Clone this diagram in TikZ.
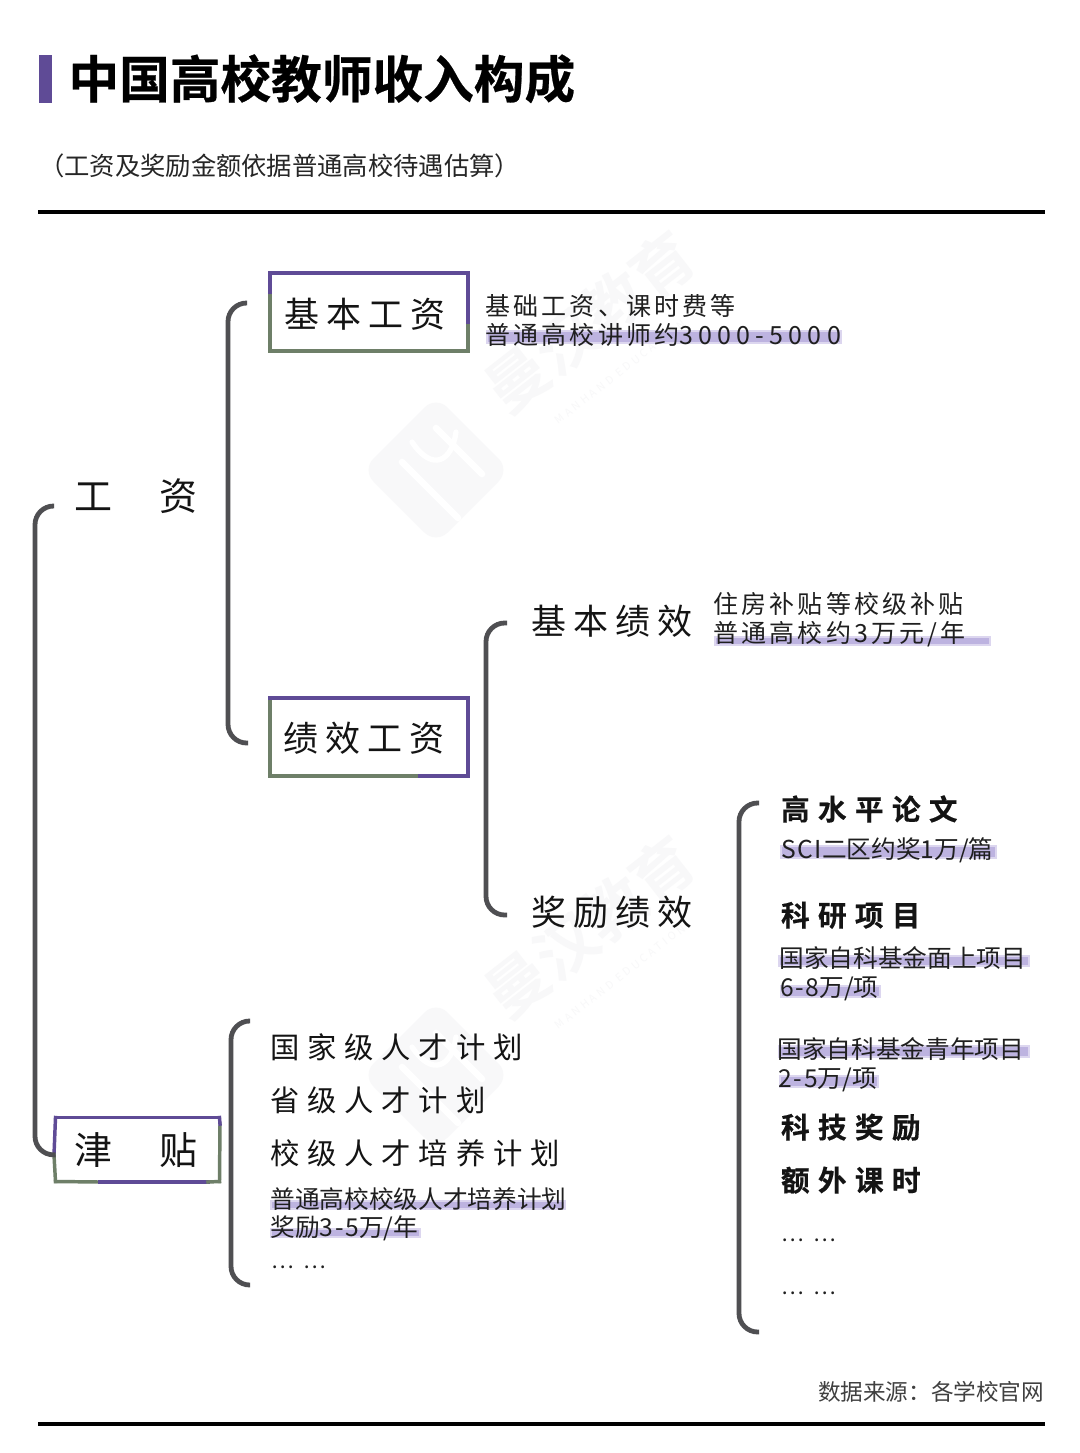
\documentclass[tikz,border=0pt]{standalone}
\usepackage{fontspec}
\setmainfont{Noto Sans CJK SC}[BoldFont={Noto Sans CJK SC Bold}]
\definecolor{pur}{HTML}{5F4B96}
\definecolor{grn}{HTML}{6E7F68}
\definecolor{brk}{HTML}{4F4F52}
\definecolor{hl}{HTML}{BDB3E0}
\definecolor{hlsoft}{HTML}{DCD6EF}
\definecolor{wm}{HTML}{F8F8F9}
\newcommand{\latinwide}[1]{{\addfontfeature{LetterSpace=21}#1}}
\newcommand{\latinsoft}[1]{{\addfontfeature{LetterSpace=7}#1}}
\newcommand{\dotsgap}{…\hspace{0.45em}…}
\tikzset{
  x=0.75pt,y=-0.75pt,
  lbl/.style 2 args={anchor=base west,inner sep=0pt,outer sep=0pt,text=#2,font=#1},
  body/.style={lbl={\fontsize{18.75}{18.75}\selectfont\addfontfeature{LetterSpace=12.5}}{black!88}},
  plain/.style={lbl={\fontsize{18.5}{18.5}\selectfont}{black!88}},
  dotted text/.style={lbl={\fontsize{16}{16}\selectfont}{black!88}},
  head/.style={lbl={\fontsize{26.25}{26.25}\selectfont\addfontfeature{LetterSpace=20.5}}{black!92}},
  item/.style={lbl={\fontsize{22}{22}\selectfont\addfontfeature{LetterSpace=26.5}}{black!92}},
  strong/.style={lbl={\bfseries\fontsize{21.5}{21.5}\selectfont\addfontfeature{LetterSpace=29,FakeBold=0.4}}{black!92}},
  wide/.style={lbl={\fontsize{28.5}{28.5}\selectfont}{black!92}},
  bracket/.style={draw=brk,line width=3.6pt,rounded corners=14pt,line cap=butt},
  edgeP/.style={draw=pur,line width=2.6pt,line cap=rect},
  edgeG/.style={draw=grn,line width=2.6pt,line cap=rect},
  mark bar/.style={fill=hl,draw=hlsoft,line width=1.2pt},
  rule/.style={draw=black,line width=3pt},
  boxnode/.style={inner sep=0pt,outer sep=0pt,minimum width=148.5pt,minimum height=58.5pt},
  wmtext/.style={inner sep=0pt,text=wm,rotate=38,font=\bfseries\fontsize{46}{46}\selectfont},
  wmsmall/.style={inner sep=0pt,text=wm,rotate=38,font=\fontsize{8}{8}\selectfont\addfontfeature{LetterSpace=30}},
}
\begin{document}
\begin{tikzpicture}
\useasboundingbox (0,0) rectangle (1080,1453);
\fill[white] (0,0) rectangle (1080,1453);

% watermark
\foreach \yy in {0,605}{
  \begin{scope}[yshift=-\yy*0.75pt]
    \fill[wm,rounded corners=12pt] (436,396) -- (510,470) -- (436,544) -- (362,470) -- cycle;
    \draw[white,line width=5pt,line cap=round] (402,462) -- (458,518);
    \draw[white,line width=5pt,line cap=round] (436,428) -- (482,474);
    \draw[white,line width=4pt,line cap=round] (412,442) .. controls (432,472) and (452,462) .. (456,432);
    \node[wmtext] (wm\yy) at (590,322) {曼汉教育};
    \node[wmsmall] (wms\yy) at (620,372) {MANHAND EDUCATION};
  \end{scope}
}

% title
\fill[pur] (39,55) rectangle (52,103);
\node[lbl={\bfseries\fontsize{38}{38}\selectfont\addfontfeature{FakeBold=0.5}}{black}] (title) at (68.5,98) {中国高校教师收入构成};
\node[lbl={\fontsize{19}{19}\selectfont}{black!85}] (sub) at (39,175) {（工资及奖励金额依据普通高校待遇估算）};
\coordinate (r1a) at (38,212); \coordinate (r1b) at (1045,212);
\coordinate (r2a) at (38,1424); \coordinate (r2b) at (1045,1424);
\draw[rule] (r1a) -- (r1b);
\draw[rule] (r2a) -- (r2b);

% highlight bars
\filldraw[mark bar] (487,331) rectangle (841,343);
\filldraw[mark bar] (715,637) rectangle (990,645);
\filldraw[mark bar] (781,846) rectangle (996,858);
\filldraw[mark bar] (779,956) rectangle (1029,966);
\filldraw[mark bar] (781,986) rectangle (880,997);
\filldraw[mark bar] (779,1046) rectangle (1029,1057);
\filldraw[mark bar] (780,1076) rectangle (878,1087);
\filldraw[mark bar] (271,1201) rectangle (565,1209);
\filldraw[mark bar] (271,1229) rectangle (420,1237);

% boxes
\node[boxnode] (jb) at (369,312) {};
\node[boxnode] (jx) at (369,737) {};
\node[inner sep=0pt,outer sep=0pt,minimum width=123pt,minimum height=48pt] (jt) at (137.5,1149.5) {};

\draw[edgeG] (jb.south west) -- (jb.south east);
\draw[edgeG] (270,292) -- (jb.south west);
\draw[edgeG] (468,322) -- (jb.south east);
\draw[edgeP] (jb.north west) -- (jb.north east);
\draw[edgeP] (jb.north west) -- (270,292);
\draw[edgeP] (jb.north east) -- (468,322);

\draw[edgeG] (jx.north west) -- (jx.south west);
\draw[edgeG] (jx.south west) -- (420,776);
\draw[edgeP] (420,776) -- (jx.south east);
\draw[edgeP] (jx.north west) -- (jx.north east);
\draw[edgeP] (jx.north east) -- (jx.south east);

\draw[edgeP] (jt.north west) -- (jt.north east);
\draw[edgeP] (jt.north west) -- (54,1155);
\draw[edgeG] (54,1155) -- (jt.south west);
\draw[edgeG] (jt.south west) -- (100,1182);
\draw[edgeP] (100,1182) -- (208,1182);
\draw[edgeG] (208,1182) -- (jt.south east);
\draw[edgeG] (jt.south east) -- (220,1124);
\draw[edgeP] (220,1124) -- (jt.north east);

% labels
\node[head] (jbt) at (284,327) {基本工资};
\node[head] (jxt) at (283,751) {绩效工资};
\node[head] (jbjx) at (531.5,634.5) {基本绩效};
\node[head] (jljx) at (531.5,925.5) {奖励绩效};
\node[wide] (gz1) at (74,510) {工};
\node[wide] (gz2) at (159.5,510) {资};
\node[wide] (jt1) at (74,1164) {津};
\node[wide] (jt2) at (159.5,1164) {贴};

\node[body] (a1) at (485.5,315.5) {基础工资、课时费等};
\node[body] (a2) at (485.5,344.5) {普通高校讲师约\latinwide{3000-5000}};
\node[body] (b1) at (713.5,613.5) {住房补贴等校级补贴};
\node[body] (b2) at (713.5,642.5) {普通高校约3万元/年};

\node[strong] (c1) at (781,820) {高水平论文};
\node[plain] (c2) at (781,858.5) {\latinsoft{SCI}二区约奖\latinsoft{1}万/篇};
\node[strong] (c3) at (781,926) {科研项目};
\node[plain] (c4) at (779.5,967.5) {国家自科基金面上项目};
\node[plain] (c5) at (780,996.5) {\latinsoft{6-8}万\latinsoft{/}项};
\node[plain] (c6) at (777.5,1058.5) {国家自科基金青年项目};
\node[plain] (c7) at (778.5,1087.5) {\latinsoft{2-5}万\latinsoft{/}项};
\node[strong] (c8) at (781,1138) {科技奖励};
\node[strong] (c9) at (781,1191) {额外课时};
\node[dotted text] (c10) at (781,1241.5) {\dotsgap};
\node[dotted text] (c11) at (781,1294.5) {\dotsgap};

\node[item] (d1) at (270.5,1058) {国家级人才计划};
\node[item] (d2) at (270.5,1111) {省级人才计划};
\node[item] (d3) at (270.5,1164) {校级人才培养计划};
\node[plain] (d4) at (270.5,1208.5) {普通高校校级人才培养计划};
\node[plain] (d5) at (270.5,1236.5) {奖励\latinsoft{3-5}万\latinsoft{/}年};
\node[dotted text] (d6) at (271,1268.5) {\dotsgap};

\node[lbl={\fontsize{16.95}{16.95}\selectfont}{black!75}] (src) at (818,1400) {数据来源：各学校官网};

% brackets
\coordinate (b0t) at (54,506);
\draw[bracket] (b0t) -- (35,506) -- (35,1155) -- ([yshift=-4pt]jt.west);
\coordinate (b1t) at (247,303); \coordinate (b1b) at (248,743);
\draw[bracket] (b1t) -- (228,303) -- (228,743) -- (b1b);
\coordinate (b2t) at (507,623); \coordinate (b2b) at (507,915);
\draw[bracket] (b2t) -- (486,623) -- (486,915) -- (b2b);
\coordinate (b3t) at (759,803); \coordinate (b3b) at (759,1332);
\draw[bracket] (b3t) -- (739,803) -- (739,1332) -- (b3b);
\coordinate (b4t) at (250,1021); \coordinate (b4b) at (250,1285);
\draw[bracket] (b4t) -- (231,1021) -- (231,1285) -- (b4b);
\end{tikzpicture}
\end{document}
